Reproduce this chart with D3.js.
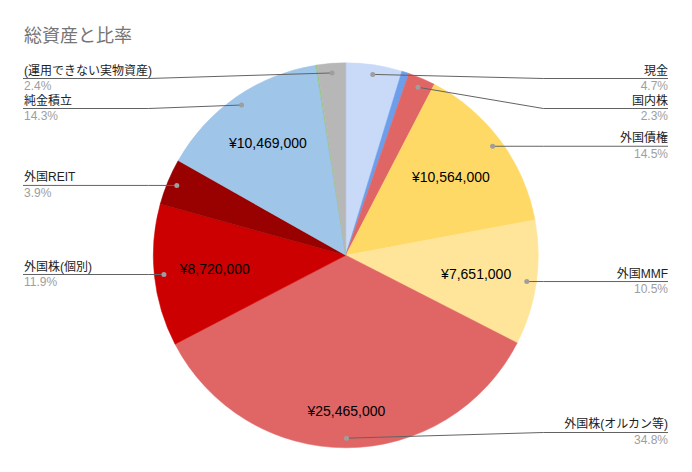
<!DOCTYPE html>
<html>
<head>
<meta charset="utf-8">
<script src="https://cdn.jsdelivr.net/npm/d3@7"></script>
<style>
  body { margin: 0; background: #fff; }
  svg { font-family: "Liberation Sans", Arial, "Noto Sans CJK JP", sans-serif; }
</style>
</head>
<body>
<div id="chart"></div>
<script>
// slices clockwise from 12 o'clock
const names = ["現金", "", "国内株", "外国債権", "外国MMF", "外国株(オルカン等)", "外国株(個別)", "外国REIT", "純金積立", "", "(運用できない実物資産)"];
const values = [3440000, 440000, 1680000, 10564000, 7651000, 25465000, 8720000, 2850000, 10469000, 70000, 1750000];
const colors = ["#c9daf8", "#6d9eeb", "#e06666", "#ffd966", "#ffe599", "#e06666", "#cc0000", "#990000", "#9fc5e8", "#93c47d", "#b7b7b7"];

const svgWidth = 692, svgHeight = 472;
const cx = 345.8, cy = 255.3, radius = 192.5;

const data = names.map((n, i) => ({ name: n, value: values[i], color: colors[i] }));
const total = d3.sum(values);

const svg = d3.select("#chart").append("svg")
    .attr("width", svgWidth)
    .attr("height", svgHeight);

svg.append("text")
    .attr("x", 24)
    .attr("y", 42)
    .attr("fill", "#757575")
    .style("font-size", "18px")
    .text("総資産と比率");

const g = svg.append("g")
    .attr("transform", "translate(" + cx + "," + cy + ")");

const pie = d3.pie().sort(null).value(d => d.value);
const arcs = pie(data);
const arc = d3.arc().innerRadius(0).outerRadius(radius);

g.selectAll("path.slice")
    .data(arcs)
    .enter().append("path")
    .attr("class", "slice")
    .attr("d", arc)
    .attr("fill", d => d.data.color)
    .attr("stroke", d => d.data.color)
    .attr("stroke-width", 0.5);

// value labels inside large slices
const k = 0.87 * radius;
const big = arcs.filter(d => d.value / total >= 0.1);
big.forEach(d => {
    const mid = (d.startAngle + d.endAngle) / 2;
    const ux = Math.sin(mid), uy = -Math.cos(mid);
    const t = g.append("text")
        .attr("text-anchor", "middle")
        .attr("fill", "#000")
        .style("font-size", "14px")
        .text("¥" + d3.format(",")(d.value));
    const w = t.node().getComputedTextLength(), h = 15;
    const a = Math.sign(ux) * w / 2, b = Math.sign(uy) * h / 2;
    const p = ux * a + uy * b;
    const dist = -p + Math.sqrt(p * p - (a * a + b * b - k * k));
    t.attr("x", dist * ux).attr("y", dist * uy + 5);
});

// outside labels with leader lines
const labeled = arcs.filter(d => d.value / total >= 0.01).map(d => {
    const mid = (d.startAngle + d.endAngle) / 2;
    const ux = Math.sin(mid), uy = -Math.cos(mid);
    return { d: d, side: ux >= 0 ? 1 : -1, dx: 0.95 * radius * ux, dy: 0.95 * radius * uy };
});

const minY = 78.5 - cy, maxY = 432.5 - cy, gap = 30;
[1, -1].forEach(side => {
    const items = labeled.filter(l => l.side === side).sort((a, b) => a.dy - b.dy);
    let prev = -Infinity;
    items.forEach(l => {
        l.ly = Math.max(l.dy, prev + gap, minY);
        prev = l.ly;
    });
    let next = Infinity;
    for (let i = items.length - 1; i >= 0; i--) {
        items[i].ly = Math.min(items[i].ly, next - gap, maxY);
        next = items[i].ly;
    }
});

const elbow = radius + 5;
const textX = 668 - cx, textXL = 24 - cx;

labeled.forEach(l => {
    const ex = l.side * elbow;
    const endX = l.side > 0 ? textX : textXL - 1;
    g.append("path")
        .attr("d", d3.line()([[l.dx, l.dy], [ex, l.ly], [endX, l.ly]]))
        .attr("fill", "none")
        .attr("stroke", "#636363")
        .attr("stroke-width", 1);
    g.append("circle")
        .attr("cx", l.dx)
        .attr("cy", l.dy)
        .attr("r", 2.5)
        .attr("fill", "#9e9e9e");
    const anchor = l.side > 0 ? "end" : "start";
    const tx = l.side > 0 ? textX : textXL;
    g.append("text")
        .attr("x", tx)
        .attr("y", l.ly - 4)
        .attr("text-anchor", anchor)
        .attr("fill", "#222")
        .style("font-size", "12px")
        .text(l.d.data.name);
    g.append("text")
        .attr("x", tx)
        .attr("y", l.ly + 11.5)
        .attr("text-anchor", anchor)
        .attr("fill", "#9e9e9e")
        .style("font-size", "12px")
        .text(d3.format(".1%")(l.d.value / total));
});
</script>
</body>
</html>
